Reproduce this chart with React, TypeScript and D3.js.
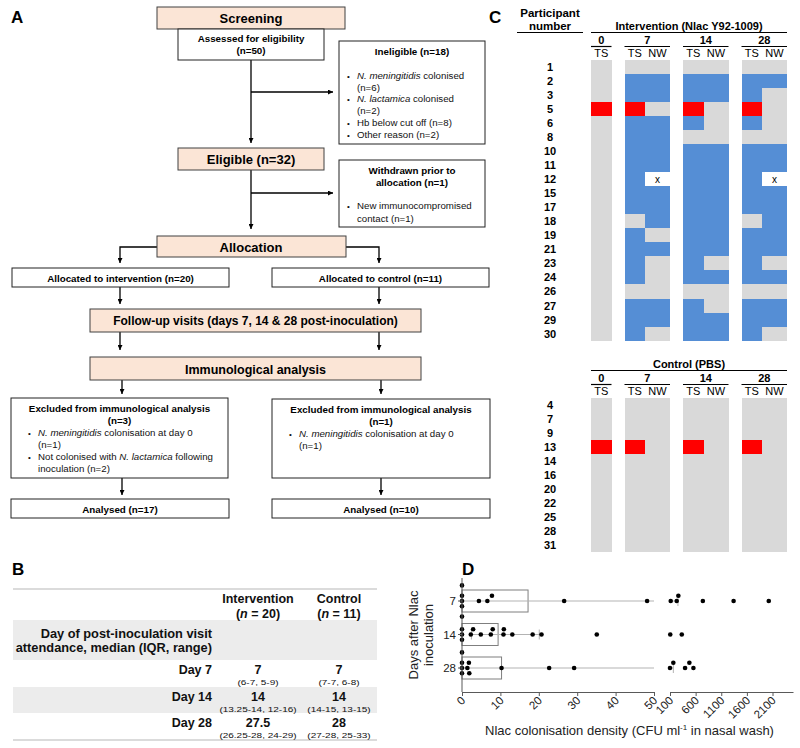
import React, { useEffect, useRef } from 'react';
import * as d3 from 'd3';

const FONT = "'Liberation Sans', Arial, Helvetica, sans-serif";
const PEACH = '#fbe5d6';
const BLUE = '#558ed5';
const GREY = '#d9d9d9';
const RED = '#ff0000';

// ---- panel C: colonisation per participant and sample ----
const interventionIds = ['1', '2', '3', '5', '6', '8', '10', '11', '12', '15', '17', '18', '19', '21', '23', '24', '26', '27', '29', '30'];
const controlIds = ['4', '7', '9', '13', '14', '16', '20', '22', '25', '28', '31'];
const visitDays = ['0', '7', '14', '28'];
const sampleTypes = [['TS'], ['TS', 'NW'], ['TS', 'NW'], ['TS', 'NW']];
// one letter per sample (0 TS, 7 TS, 7 NW, 14 TS, 14 NW, 28 TS, 28 NW)
// g = negative, b = N. lactamica, r = N. meningitidis, x = no sample
const interventionStatus = [
  'ggggggg', 'gbbbbbb', 'gbbbbbg', 'rrgrgrg', 'gbbbgbg',
  'gbbgggg', 'gbbbbbb', 'gbbbbbb', 'gbxbbbx', 'gbbbbbb',
  'gbbbbbb', 'ggbbbgb', 'gbgbbbb', 'gbbbbbb', 'gbgbgbg',
  'gbgbbbb', 'ggggggg', 'gbbbgbb', 'gbbbbbb', 'gbgbbbg',
];
const controlStatus = [
  'ggggggg', 'ggggggg', 'ggggggg', 'rrgrgrg', 'ggggggg', 'ggggggg',
  'ggggggg', 'ggggggg', 'ggggggg', 'ggggggg', 'ggggggg',
];

// ---- panel B: visit attendance ----
const tableGroups = ['Intervention', 'Control'];
const tableN = ['20', '11'];
const tableRows = ['Day 7', 'Day 14', 'Day 28'];
const interventionMedian = ['7', '14', '27.5'];
const interventionRange = ['(6-7, 5-9)', '(13.25-14, 12-16)', '(26.25-28, 24-29)'];
const controlMedian = ['7', '14', '28'];
const controlRange = ['(7-7, 6-8)', '(14-15, 13-15)', '(27-28, 25-33)'];

// ---- panel D: colonisation density ----
const densityDays = ['7', '14', '28'];
const day7Density = [0, 0, 0, 0, 0, 4.4, 6.6, 7.8, 26.6, 48.2, 114, 231, 263, 741, 1341, 2027];
const day14Density = [0, 0, 0, 2.3, 2.9, 4.9, 7.5, 8.0, 10.8, 10.9, 13.1, 18.4, 20.7, 35.1, 105, 330];
const day28Density = [0, 0, 0, 0, 1.4, 1.8, 1.9, 10.3, 22.7, 29.2, 100, 165, 394, 478, 557];
const lowTicks = [0, 10, 20, 30, 40, 50];
const highTicks = [100, 600, 1100, 1600, 2100];

// text with *italic* parts
const Rich = ({ s }: { s: string }) => (
  <>
    {s.split('*').map((p, i) => (
      <tspan key={i} fontStyle={i % 2 ? 'italic' : 'normal'}>{p}</tspan>
    ))}
  </>
);

const Box = ({ x, y, w, h, fill = '#fff' }: any) => (
  <rect x={x} y={y} width={w} height={h} fill={fill} stroke={fill === '#fff' ? '#222' : '#404040'} strokeWidth={1} />
);

const Bullets = ({ x, lines, bullets }: { x: number; lines: [number, string][]; bullets: number[] }) => (
  <g fontSize={9.7} fill="#111">
    {lines.map(([y, s], i) => (
      <g key={i}>
        {bullets.includes(i) && <text x={x - 10} y={y} fontSize={8}>•</text>}
        <text x={x} y={y}><Rich s={s} /></text>
      </g>
    ))}
  </g>
);

const Flow = () => {
  const arrows: [number, number][][] = [
    [[251, 60], [251, 143]],
    [[251, 92], [333, 92]],
    [[251, 170], [251, 229]],
    [[251, 193], [333, 193]],
    [[157, 247], [120, 247], [120, 263]],
    [[346, 247], [379, 247], [379, 263]],
    [[120, 287], [120, 304]],
    [[379, 287], [379, 304]],
    [[120, 332], [120, 350]],
    [[379, 332], [379, 350]],
    [[122, 380], [122, 394]],
    [[381, 380], [381, 394]],
    [[122, 478], [122, 495]],
    [[381, 478], [381, 495]],
  ];
  const line = d3.line();
  return (
    <g>
      <defs>
        <marker id="ah" viewBox="0 0 10 10" refX={10} refY={5} markerWidth={5} markerHeight={5} markerUnits="userSpaceOnUse" orient="auto">
          <path d="M0,0L10,5L0,10z" fill="#000" />
        </marker>
      </defs>
      {arrows.map((pts, i) => (
        <path key={i} d={line(pts) || ''} fill="none" stroke="#000" strokeWidth={1.3} markerEnd="url(#ah)" />
      ))}

      <Box x={157} y={7} w={188} h={22} fill={PEACH} />
      <text x={251} y={23} textAnchor="middle" fontWeight="bold" fontSize={13}>Screening</text>
      <Box x={178} y={29} w={146} h={31} />
      <g textAnchor="middle" fontWeight="bold" fontSize={9.8}>
        <text x={251} y={42}>Assessed for eligibility</text>
        <text x={251} y={54}>(n=50)</text>
      </g>

      <Box x={339} y={41} w={146} h={103} />
      <text x={412} y={55} textAnchor="middle" fontWeight="bold" fontSize={9.8}>Ineligible (n=18)</text>
      <Bullets x={357} bullets={[0, 2, 4, 5]} lines={[
        [78.5, '*N. meningitidis* colonised'], [90.5, '(n=6)'],
        [102, '*N. lactamica* colonised'], [113.5, '(n=2)'],
        [125.5, 'Hb below cut off (n=8)'], [138, 'Other reason (n=2)'],
      ]} />

      <Box x={178} y={148} w={146} h={22} fill={PEACH} />
      <text x={251} y={164} textAnchor="middle" fontWeight="bold" fontSize={13}>Eligible (n=32)</text>

      <Box x={339} y={160} w={146} h={67} />
      <g textAnchor="middle" fontWeight="bold" fontSize={9.8}>
        <text x={412} y={174}>Withdrawn prior to</text>
        <text x={412} y={186}>allocation (n=1)</text>
      </g>
      <Bullets x={357} bullets={[0]} lines={[[209, 'New immunocompromised'], [221.5, 'contact (n=1)']]} />

      <Box x={157} y={236} w={189} h={21} fill={PEACH} />
      <text x={251} y={251.5} textAnchor="middle" fontWeight="bold" fontSize={13}>Allocation</text>

      <Box x={12} y={268} w={217} h={19} />
      <Box x={272} y={268} w={217} h={19} />
      <g textAnchor="middle" fontWeight="bold" fontSize={9.8}>
        <text x={120.5} y={281.5}>Allocated to intervention (n=20)</text>
        <text x={380.5} y={281.5}>Allocated to control (n=11)</text>
      </g>

      <Box x={90} y={309} w={331} h={23} fill={PEACH} />
      <text x={255.5} y={325} textAnchor="middle" fontWeight="bold" fontSize={12}>Follow-up visits (days 7, 14 &amp; 28 post-inoculation)</text>
      <Box x={90} y={357} w={331} h={23} fill={PEACH} />
      <text x={255.5} y={373.5} textAnchor="middle" fontWeight="bold" fontSize={12.5}>Immunological analysis</text>

      <Box x={11} y={398} w={217} h={80} />
      <g textAnchor="middle" fontWeight="bold" fontSize={9.8}>
        <text x={119.5} y={412}>Excluded from immunological analysis</text>
        <text x={119.5} y={424}>(n=3)</text>
      </g>
      <Bullets x={38} bullets={[0, 2]} lines={[
        [435.5, '*N. meningitidis* colonisation at day 0'], [447.5, '(n=1)'],
        [459.5, 'Not colonised with *N. lactamica* following'], [471.5, 'inoculation (n=2)'],
      ]} />

      <Box x={272} y={399} w={218} h={79} />
      <g textAnchor="middle" fontWeight="bold" fontSize={9.8}>
        <text x={381} y={413}>Excluded from immunological analysis</text>
        <text x={381} y={425}>(n=1)</text>
      </g>
      <Bullets x={299} bullets={[0]} lines={[[436.5, '*N. meningitidis* colonisation at day 0'], [448.5, '(n=1)']]} />

      <Box x={11} y={499} w={218} h={19} />
      <Box x={272} y={499} w={218} h={19} />
      <g textAnchor="middle" fontWeight="bold" fontSize={9.8}>
        <text x={120} y={512.5}>Analysed (n=17)</text>
        <text x={381} y={512.5}>Analysed (n=10)</text>
      </g>
    </g>
  );
};

const GRID_X0 = 591;
const TS_W = 20.5;
const NW_W = 25;
const DAY_GAP = 13;
const ROW_H = 14.03;

const gridLayout = () => {
  const cols: { x: number; w: number; type: string }[] = [];
  const groups: { day: string; x0: number; x1: number }[] = [];
  let x = GRID_X0;
  visitDays.forEach((d, i) => {
    const start = x;
    sampleTypes[i].forEach(t => {
      const w = t === 'TS' ? TS_W : NW_W;
      cols.push({ x, w, type: t });
      x += w;
    });
    groups.push({ day: d, x0: start, x1: x });
    x += DAY_GAP;
  });
  return { cols, groups, x1: x - DAY_GAP };
};

const colourOf: Record<string, string> = { g: GREY, b: BLUE, r: RED, x: '#fff' };

const StatusGrid = ({ ids, status, top, title }: { ids: string[]; status: string[]; top: number; title: string }) => {
  const { cols, groups, x1 } = gridLayout();
  const y = d3.scaleBand().domain(ids).range([top, top + ids.length * ROW_H]);
  const mid = (GRID_X0 + x1) / 2;
  return (
    <g>
      <text x={mid} y={top - 30} textAnchor="middle" fontWeight="bold" fontSize={11}>{title}</text>
      <line x1={GRID_X0} x2={x1} y1={top - 27.5} y2={top - 27.5} stroke="#000" strokeWidth={1.2} />
      {groups.map(g => (
        <g key={g.day}>
          <text x={(g.x0 + g.x1) / 2} y={top - 16.5} textAnchor="middle" fontWeight="bold" fontSize={11}>{g.day}</text>
          <line x1={g.x0} x2={g.x1} y1={top - 13.5} y2={top - 13.5} stroke="#000" strokeWidth={1.2} />
        </g>
      ))}
      {cols.map((c, i) => (
        <text key={i} x={c.x + c.w / 2} y={top - 3} textAnchor="middle" fontSize={11}>{c.type}</text>
      ))}
      {ids.map((id, r) => (
        <g key={id}>
          <text x={550} y={(y(id) || 0) + ROW_H / 2 + 4} textAnchor="middle" fontWeight="bold" fontSize={11}>{id}</text>
          {cols.map((c, ci) => {
            const code = status[r][ci];
            return (
              <g key={ci}>
                <rect x={c.x} y={y(id)} width={c.w} height={y.bandwidth()} fill={colourOf[code]} shapeRendering="crispEdges" />
                {code === 'x' && (
                  <text x={c.x + c.w / 2} y={(y(id) || 0) + ROW_H / 2 + 3.5} textAnchor="middle" fontSize={10}>x</text>
                )}
              </g>
            );
          })}
        </g>
      ))}
    </g>
  );
};

const PanelC = () => (
  <g>
    <text x={550} y={17} textAnchor="middle" fontWeight="bold" fontSize={11.5}>Participant</text>
    <text x={550} y={30} textAnchor="middle" fontWeight="bold" fontSize={11.5}>number</text>
    <line x1={517} x2={583} y1={32.5} y2={32.5} stroke="#000" strokeWidth={1.2} />
    <StatusGrid ids={interventionIds} status={interventionStatus} top={60} title="Intervention (Nlac Y92-1009)" />
    <StatusGrid ids={controlIds} status={controlStatus} top={398} title="Control (PBS)" />
  </g>
);

const PanelB = () => {
  const colX = [258, 339];
  const rowTop = [660, 687, 713];
  const medians = [interventionMedian, controlMedian];
  const ranges = [interventionRange, controlRange];
  return (
    <g fill="#111">
      <line x1={13} x2={377} y1={589} y2={589} stroke="#cfcfcf" strokeWidth={1.5} />
      <rect x={13} y={620} width={364} height={40} fill="#ececec" />
      <rect x={13} y={687} width={364} height={26} fill="#ececec" />
      <line x1={13} x2={377} y1={740} y2={740} stroke="#cfcfcf" strokeWidth={1.5} />
      {tableGroups.map((g, i) => (
        <g key={g} textAnchor="middle" fontWeight="bold" fontSize={12.5}>
          <text x={colX[i]} y={603}>{g}</text>
          <text x={colX[i]} y={617.5}>(<tspan fontStyle="italic">n</tspan> = {tableN[i]})</text>
        </g>
      ))}
      <g textAnchor="end" fontWeight="bold" fontSize={12.8}>
        <text x={212} y={638}>Day of post-inoculation visit</text>
        <text x={212} y={652}>attendance, median (IQR, range)</text>
      </g>
      {tableRows.map((r, ri) => (
        <g key={r}>
          <text x={212} y={rowTop[ri] + 14} textAnchor="end" fontWeight="bold" fontSize={12.5}>{r}</text>
          {colX.map((cx, ci) => (
            <g key={ci} textAnchor="middle">
              <text x={cx} y={rowTop[ri] + 14} fontWeight="bold" fontSize={12.5}>{medians[ci][ri]}</text>
              <text transform={`translate(${cx},${rowTop[ri] + 25}) scale(1.25,1)`} fontSize={8}>{ranges[ci][ri]}</text>
            </g>
          ))}
        </g>
      ))}
    </g>
  );
};

// quartile by the (n+1)p rule
const quartile = (sorted: number[], p: number) => {
  const n = sorted.length;
  const pos = p * (n + 1);
  const lo = Math.floor(pos);
  if (lo < 1) return sorted[0];
  if (lo >= n) return sorted[n - 1];
  return sorted[lo - 1] + (pos - lo) * (sorted[lo] - sorted[lo - 1]);
};

const PanelD = () => {
  const lowRef = useRef<SVGGElement>(null);
  const highRef = useRef<SVGGElement>(null);
  const axisY = 692;
  const xLow = d3.scaleLinear().domain([0, 50]).range([462, 654]);
  const xHigh = d3.scaleLinear().domain([100, 2500]).range([670, 793]);
  const y = d3.scalePoint<string>().domain(densityDays).range([601, 668]);
  const xAt = (v: number) => (v <= 50 ? xLow(v) : xHigh(v));
  const sets = [day7Density, day14Density, day28Density];

  useEffect(() => {
    const draw = (el: SVGGElement | null, scale: any, ticks: number[]) => {
      if (!el) return;
      const g = d3.select(el);
      g.selectAll('*').remove();
      g.call(d3.axisBottom(scale).tickValues(ticks).tickSize(4).tickSizeOuter(0).tickFormat(d3.format('d')));
      g.attr('font-family', FONT).attr('font-size', 11.5);
      g.select('.domain').attr('stroke', '#595959');
      g.selectAll('.tick line').attr('stroke', '#595959');
      g.selectAll('.tick text')
        .attr('fill', '#222')
        .attr('x', -4)
        .attr('y', 5)
        .attr('dy', '0.35em')
        .attr('transform', 'rotate(-45)')
        .attr('text-anchor', 'end');
    };
    draw(lowRef.current, xLow, lowTicks);
    draw(highRef.current, xHigh, highTicks);
  }, []);

  const swarm = (values: number[], cy: number) => {
    const gap = 5.2;
    const placed: { x: number; y: number }[] = [];
    [...values].sort((a, b) => a - b).forEach(v => {
      const x = xAt(v);
      for (let k = 0; k < 40; k++) {
        const off = k === 0 ? 0 : (k % 2 ? -1 : 1) * Math.ceil(k / 2) * gap;
        if (placed.every(p => Math.hypot(p.x - x, p.y - (cy + off)) >= gap)) {
          placed.push({ x, y: cy + off });
          break;
        }
      }
    });
    return placed;
  };

  return (
    <g>
      {densityDays.map((d, i) => {
        const sorted = [...sets[i]].sort((a, b) => a - b);
        const med = d3.median(sorted) || 0;
        const q1 = quartile(sorted, 0.25);
        const q3 = quartile(sorted, 0.75);
        const cy = y(d) || 0;
        const segs: [number, number][] = [];
        segs.push([xAt(q1), xAt(Math.min(q3, 50))]);
        if (q3 > 50) segs.push([xHigh(100), xHigh(q3)]);
        return (
          <g key={d}>
            <rect x={xLow(0)} y={cy - 11} width={xAt(med) - xLow(0)} height={22} fill="#fff" stroke="#7f7f7f" strokeWidth={1} />
            {segs.map(([a, b], si) => (
              <line key={si} x1={a} x2={b} y1={cy} y2={cy} stroke="#b3b3b3" strokeWidth={1} />
            ))}
            {q1 > 0 && <line x1={xAt(q1)} x2={xAt(q1)} y1={cy - 5} y2={cy + 5} stroke="#b3b3b3" />}
            <line x1={xAt(q3)} x2={xAt(q3)} y1={cy - 5} y2={cy + 5} stroke="#b3b3b3" />
            {swarm(sets[i], cy).map((p, pi) => (
              <circle key={pi} cx={p.x} cy={p.y} r={2.3} fill="#000" />
            ))}
          </g>
        );
      })}
      <line x1={462} x2={462} y1={578} y2={axisY} stroke="#595959" strokeWidth={1} />
      {densityDays.map(d => (
        <g key={d}>
          <line x1={458} x2={462} y1={y(d)} y2={y(d)} stroke="#595959" />
          <text x={456} y={(y(d) || 0) + 4} textAnchor="end" fontSize={11.5} fill="#222">{d}</text>
        </g>
      ))}
      <g ref={lowRef} transform={`translate(0,${axisY})`} />
      <g ref={highRef} transform={`translate(0,${axisY})`} />
      <g transform="translate(418,635) rotate(-90)" textAnchor="middle" fontSize={13} fill="#222">
        <text x={0} y={0}>Days after Nlac</text>
        <text x={0} y={15}>inoculation</text>
      </g>
      <text x={629.5} y={735} textAnchor="middle" fontSize={13} fill="#222">
        Nlac colonisation density (CFU ml<tspan fontSize={8} dy={-5}>-1</tspan><tspan dy={5}> in nasal wash)</tspan>
      </text>
    </g>
  );
};

export default function App() {
  return (
    <svg width={800} height={748} style={{ position: 'absolute', left: 0, top: 0, background: '#fff' }} fontFamily={FONT}>
      <g fontWeight="bold" fontSize={17}>
        <text x={11} y={23}>A</text>
        <text x={489} y={23}>C</text>
        <text x={12} y={575}>B</text>
        <text x={462} y={575}>D</text>
      </g>
      <Flow />
      <PanelC />
      <PanelB />
      <PanelD />
    </svg>
  );
}
